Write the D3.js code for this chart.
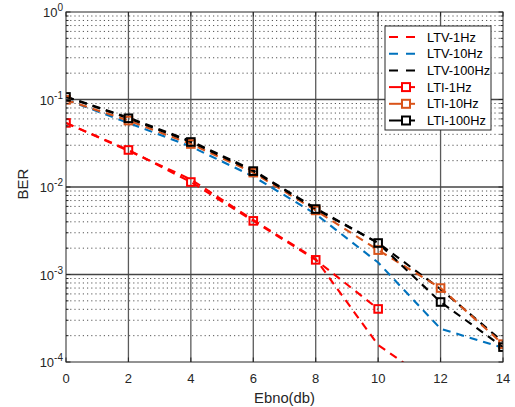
<!DOCTYPE html>
<html><head><meta charset="utf-8">
<script src="https://cdn.jsdelivr.net/npm/d3@7"></script>
<style>body{margin:0;background:#fff}svg{display:block;font-family:"Liberation Sans",Arial,sans-serif}</style>
</head><body><svg id="c" width="515" height="407"></svg>
<script>
const ebno = [0, 2, 4, 6, 8, 10, 12, 14];
const ltv1 = [0.054, 0.026, 0.0122, 0.0042, 0.0015, 0.000156, 0.00005];
const ltv10 = [0.100, 0.054, 0.029, 0.0132, 0.0049, 0.00137, 0.00024, 0.000145];
const ltv100 = [0.108, 0.062, 0.0335, 0.0155, 0.0057, 0.0023, 0.00068, 0.00017];
const lti1 = [0.054, 0.0265, 0.0114, 0.0041, 0.00147, 0.000404];
const lti10 = [0.099, 0.0575, 0.031, 0.0146, 0.0054, 0.0019, 0.0007, 0.00016];
const lti100 = [0.107, 0.061, 0.0327, 0.0152, 0.0056, 0.00229, 0.000485, 0.000148];
const xTicks = [0, 2, 4, 6, 8, 10, 12, 14];
const yTickExp = [0, -1, -2, -3, -4];
const seriesNames = ["LTV-1Hz", "LTV-10Hz", "LTV-100Hz", "LTI-1Hz", "LTI-10Hz", "LTI-100Hz"];
const seriesColors = ["#FF0000", "#0072BD", "#000000", "#FF0000", "#D95319", "#000000"];
const seriesData = [ltv1, ltv10, ltv100, lti1, lti10, lti100];
const seriesMarker = [false, false, false, true, true, true];

const L = 66, R = 503, T = 12, B = 362;
const svg = d3.select("#c");
const x = d3.scaleLinear().domain([0, 14]).range([L, R]);
const y = d3.scaleLog().domain([1e-4, 1]).range([B, T]);

svg.append("rect").attr("x", L).attr("y", T).attr("width", R - L).attr("height", B - T).attr("fill", "#fff");

// minor grid
const minor = [];
for (let k = -4; k < 0; k++) for (let m = 2; m <= 9; m++) minor.push(m * Math.pow(10, k));
const g = svg.append("g");
g.selectAll("line.mg").data(minor).join("line")
  .attr("x1", L).attr("x2", R).attr("y1", d => y(d)).attr("y2", d => y(d))
  .attr("stroke", "#555").attr("stroke-width", 1).attr("stroke-dasharray", "1.2,3");
// major grid
g.selectAll("line.gx").data(xTicks.slice(1, -1)).join("line")
  .attr("x1", d => x(d)).attr("x2", d => x(d)).attr("y1", T).attr("y2", B)
  .attr("stroke", "#5a5a5a").attr("stroke-width", 1.3);
g.selectAll("line.gy").data(yTickExp.slice(1, -1)).join("line")
  .attr("x1", L).attr("x2", R).attr("y1", d => y(Math.pow(10, d))).attr("y2", d => y(Math.pow(10, d)))
  .attr("stroke", "#444").attr("stroke-width", 1.3);

// data
svg.append("clipPath").attr("id", "pc").append("rect")
  .attr("x", L).attr("y", T).attr("width", R - L).attr("height", B - T);
const plot = svg.append("g").attr("clip-path", "url(#pc)");
const line = d3.line().x((d, i) => x(ebno[i])).y(d => y(d));
seriesData.forEach((data, s) => {
  plot.append("path").attr("d", line(data)).attr("fill", "none")
    .attr("stroke", seriesColors[s]).attr("stroke-width", 2.1).attr("stroke-dasharray", "8,6");
});
seriesData.forEach((data, s) => {
  if (!seriesMarker[s]) return;
  plot.selectAll(null).data(data).join("rect")
    .attr("x", (d, i) => x(ebno[i]) - 3.8).attr("y", d => y(d) - 3.8)
    .attr("width", 7.6).attr("height", 7.6).attr("fill", "none")
    .attr("stroke", seriesColors[s]).attr("stroke-width", 2);
});

// axes box
svg.append("rect").attr("x", L).attr("y", T).attr("width", R - L).attr("height", B - T)
  .attr("fill", "none").attr("stroke", "#262626").attr("stroke-width", 1);

// ticks
const tk = svg.append("g").attr("stroke", "#262626").attr("stroke-width", 1);
xTicks.forEach(v => {
  tk.append("line").attr("x1", x(v)).attr("x2", x(v)).attr("y1", B).attr("y2", B - 4.5);
  tk.append("line").attr("x1", x(v)).attr("x2", x(v)).attr("y1", T).attr("y2", T + 4.5);
});
yTickExp.forEach(e => {
  const yy = y(Math.pow(10, e));
  tk.append("line").attr("x1", L).attr("x2", L + 4.5).attr("y1", yy).attr("y2", yy);
  tk.append("line").attr("x1", R).attr("x2", R - 4.5).attr("y1", yy).attr("y2", yy);
});
minor.forEach(v => {
  tk.append("line").attr("x1", L).attr("x2", L + 2.5).attr("y1", y(v)).attr("y2", y(v));
  tk.append("line").attr("x1", R).attr("x2", R - 2.5).attr("y1", y(v)).attr("y2", y(v));
});

// tick labels
svg.selectAll("text.xt").data(xTicks).join("text")
  .attr("x", d => x(d)).attr("y", B + 21).attr("text-anchor", "middle")
  .attr("font-size", 13).attr("fill", "#262626").text(d => d);
yTickExp.forEach(e => {
  const t = svg.append("text").attr("x", 63).attr("y", y(Math.pow(10, e)) + 5)
    .attr("text-anchor", "end").attr("font-size", 13).attr("fill", "#262626");
  t.append("tspan").text("10");
  t.append("tspan").attr("dy", -6).attr("font-size", 10).text(e === 0 ? "0" : "-" + (-e));
});
svg.append("text").attr("x", x(7)).attr("y", 403).attr("text-anchor", "middle")
  .attr("font-size", 14.8).attr("fill", "#262626").text("Ebno(db)");
svg.append("text").attr("transform", "translate(28," + 184 + ") rotate(-90)")
  .attr("text-anchor", "middle").attr("font-size", 15).attr("fill", "#262626").text("BER");

// legend
const lg = svg.append("g");
lg.append("rect").attr("x", 385).attr("y", 26).attr("width", 106).attr("height", 104)
  .attr("fill", "#fff").attr("stroke", "#262626").attr("stroke-width", 1);
seriesNames.forEach((n, i) => {
  const yy = 37 + i * 16.7;
  if (!seriesMarker[i]) {
    lg.append("line").attr("x1", 389).attr("x2", 415).attr("y1", yy).attr("y2", yy)
      .attr("stroke", seriesColors[i]).attr("stroke-width", 2).attr("stroke-dasharray", "9,8");
  } else {
    lg.append("line").attr("x1", 389).attr("x2", 415).attr("y1", yy).attr("y2", yy)
      .attr("stroke", seriesColors[i]).attr("stroke-width", 2);
    lg.append("rect").attr("x", 402).attr("y", yy - 4).attr("width", 8).attr("height", 8)
      .attr("fill", "#fff").attr("stroke", seriesColors[i]).attr("stroke-width", 2);
  }
  lg.append("text").attr("x", 427).attr("y", yy + 4.5).attr("font-size", 12.8)
    .attr("fill", "#000").text(n);
});
</script></body></html>
